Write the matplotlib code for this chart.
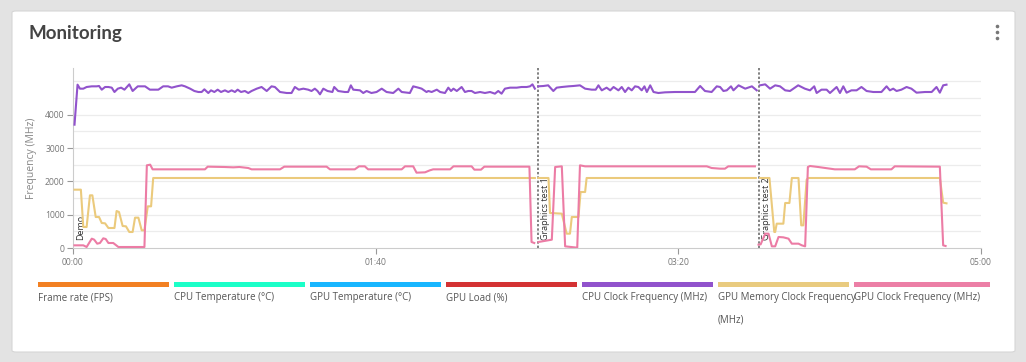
import numpy as np
import matplotlib.pyplot as plt
from matplotlib.patches import FancyBboxPatch, Rectangle
from matplotlib.lines import Line2D
from matplotlib.transforms import offset_copy

nan = np.nan

# time in seconds, NaN separates the three runs (Demo / Graphics test 1 / Graphics test 2)
cpu_clock_t = [0.5, 1.5, 2.3, 3.4, 4.5, 6.2, 7.8, 8.6, 9.5, 10.6, 11.7, 12.8, 13.7, 14.8, 15.9, 17.0,
               18.6, 19.7, 21.4, 23.8, 25.4, 28.2, 29.8, 31.4, 32.6, 34.3, 35.9, 37.0, 38.7, 40.1, 41.4,
               42.5, 43.4, 44.7, 45.6, 46.7, 47.8, 48.9, 50.2, 51.3, 52.4, 53.5, 54.4, 55.5, 56.8, 57.9,
               59.0, 60.7, 62.3, 64.0, 65.6, 66.7, 68.4, 70.6, 72.2, 73.3, 74.6, 76.1, 77.7, 78.8, 79.9,
               80.8, 81.6, 82.7, 84.1, 85.7, 86.3, 87.6, 89.8, 90.9, 91.8, 92.6, 94.8, 95.9, 97.0, 98.6,
               100.3, 102.0, 103.6, 105.8, 107.5, 108.6, 111.3, 112.4, 114.1, 115.2, 116.8, 117.4, 118.5,
               120.2, 121.3, 122.9, 124.0, 124.9, 125.7, 126.8, 128.4, 129.5, 130.6, 131.7, 132.8, 134.5,
               136.1, 137.8, 139.4, 140.5, 141.6, 142.7, 144.4, 146.6, 148.2, 149.9, 151.0, 151.8, 152.6,
               nan,
               153.7, 155.4, 157.0, 158.7, 159.8, 161.5, 163.7, 165.3, 167.5, 169.2, 171.4, 172.7, 173.6,
               174.7, 176.3, 177.5, 178.6, 180.2, 181.3, 182.4, 183.5, 184.6, 185.7, 186.8, 187.9, 188.8,
               189.6, 190.7, 191.8, 193.4, 195.6, 198.9, 202.2, 205.5, 207.2, 208.8, 211.0, 212.7, 213.8,
               214.9, 216.0, 217.4, 218.2, 219.9, 222.1, 224.3, 225.9,
               nan,
               227.0, 228.7, 230.3, 232.0, 233.6, 235.3, 236.9, 239.6, 241.8, 243.5, 244.9, 245.7, 247.3,
               249.0, 250.1, 252.3, 253.4, 254.5, 255.6, 257.2, 258.9, 260.5, 262.2, 264.4, 267.1, 268.8,
               269.9, 271.0, 272.1, 273.7, 275.4, 277.0, 278.7, 281.5, 283.7, 285.3, 286.4, 287.5, 288.6]
cpu_clock_v = [3700, 4900, 4780, 4780, 4830, 4850, 4850, 4860, 4750, 4830, 4830, 4810, 4680, 4780, 4810, 4750,
               4910, 4710, 4850, 4850, 4750, 4750, 4850, 4850, 4810, 4850, 4880, 4850, 4780, 4710, 4680,
               4680, 4760, 4650, 4730, 4680, 4750, 4680, 4730, 4680, 4730, 4680, 4750, 4680, 4710, 4650,
               4710, 4780, 4830, 4710, 4850, 4830, 4680, 4650, 4650, 4830, 4750, 4780, 4750, 4710, 4780,
               4710, 4610, 4780, 4710, 4680, 4830, 4710, 4680, 4680, 4880, 4750, 4730, 4650, 4710, 4650,
               4680, 4780, 4680, 4650, 4780, 4680, 4650, 4850, 4810, 4780, 4680, 4710, 4680,
               4750, 4680, 4650, 4810, 4710, 4780, 4710, 4830, 4680, 4710, 4710, 4650, 4680,
               4650, 4680, 4630, 4710, 4630, 4780, 4810, 4810, 4830, 4830, 4850, 4910, 4780,
               nan,
               4850, 4860, 4880, 4710, 4810, 4830, 4850, 4860, 4880, 4780, 4750, 4750, 4880,
               4730, 4810, 4730, 4830, 4730, 4830, 4680, 4810, 4730, 4850, 4830, 4730, 4850,
               4680, 4880, 4680, 4650, 4670, 4680, 4680, 4680, 4860, 4710, 4680, 4850, 4830,
               4710, 4730, 4850, 4730, 4880, 4780, 4850, 4730,
               nan,
               4880, 4910, 4780, 4880, 4850, 4730, 4710, 4880, 4780, 4730, 4850, 4650, 4750,
               4750, 4650, 4830, 4650, 4850, 4660, 4730, 4730, 4830, 4710, 4680, 4680, 4850,
               4730, 4780, 4710, 4750, 4830, 4780, 4660, 4680, 4680, 4830, 4660, 4880, 4900]

gpu_mem_t = [0.5, 2.6, 3.4, 4.5, 5.6, 6.4, 7.5, 8.6, 9.5, 10.6, 11.7, 13.7, 14.4, 15.2, 16.4, 17.5, 18.6,
             19.7, 20.5, 21.6, 22.7, 23.6, 24.7, 25.8, 26.5, 152.6,
             nan,
             153.7, 157.1, 157.6, 161.5, 163.1, 164.2, 164.8, 167.0, 167.7, 169.2, 169.7, 225.6,
             nan,
             227.0, 230.1, 231.7, 232.0, 232.5, 234.7, 235.3, 236.7, 237.5, 239.7, 240.6, 241.3, 242.4,
             242.9, 286.4, 287.5, 288.6]
gpu_mem_v = [1750, 1750, 630, 630, 1580, 1580, 930, 930, 750, 740, 600, 600, 1110, 1080, 660, 650, 480,
             480, 910, 910, 530, 530, 1250, 1250, 2100, 2100,
             nan,
             2100, 2100, 1050, 1030, 430, 430, 930, 930, 1680, 1680, 2100, 2100,
             nan,
             2100, 2100, 480, 480, 730, 730, 1350, 1350, 2100, 2100, 680, 680, 2050,
             2100, 2100, 1360, 1340]

gpu_clock_t = [0.5, 3.4, 4.5, 6.2, 7.0, 8.0, 8.9, 10.0, 10.8, 11.7, 13.3, 15.0, 23.6, 24.4, 25.5, 26.3,
               43.6, 44.5, 50.0, 53.0, 55.0, 57.9, 59.0, 68.4, 69.8, 83.8, 84.9, 93.1, 94.5, 96.4, 97.5,
               108.6, 109.7, 112.4, 113.5, 116.3, 117.9, 119.0, 124.6, 125.7, 131.7, 132.6, 134.8, 135.9,
               150.8, 151.5, 152.4,
               nan,
               153.8, 158.2, 159.3, 161.5, 162.6, 166.6, 167.5, 169.2, 209.4, 211.0, 213.8, 215.4, 216.5,
               225.3,
               nan,
               226.5, 227.2, 228.7, 229.8, 230.9, 232.0, 233.1, 234.7, 236.4, 237.5, 239.7, 240.8, 241.9,
               242.8, 243.5, 246.2, 251.7, 258.3, 259.7, 262.2, 263.6, 270.4, 271.5, 286.4, 287.5, 288.3]
gpu_clock_v = [80, 80, 30, 280, 250, 130, 150, 290, 270, 150, 150, 30, 30, 2480, 2500, 2360,
               2360, 2440, 2430, 2420, 2430, 2400, 2360, 2360, 2440, 2440, 2360, 2360, 2450, 2450, 2360,
               2360, 2450, 2450, 2260, 2270, 2330, 2360, 2360, 2450, 2450, 2350, 2350, 2440,
               2440, 180, 150,
               nan,
               180, 250, 2430, 2450, 50, 10, 2480, 2450, 2450, 2400, 2380, 2380, 2450,
               2450,
               nan,
               100, 110, 430, 430, 50, 50, 330, 320, 280, 130, 130, 80, 50,
               2430, 2460, 2430, 2360, 2360, 2450, 2440, 2360, 2360, 2450, 2440, 80, 60]

marker_times = [0, 153.6, 226.6]
marker_labels = ['Demo', 'Graphics test 1', 'Graphics test 2']

x_ticks = [0, 100, 200, 300]
x_labels = ['00:00', '01:40', '03:20', '05:00']
y_ticks = [0, 1000, 2000, 3000, 4000]

legend_names = ['Frame rate (FPS)', 'CPU Temperature (°C)', 'GPU Temperature (°C)', 'GPU Load (%)',
                'CPU Clock Frequency (MHz)', 'GPU Memory Clock Frequency\n(MHz)', 'GPU Clock Frequency (MHz)']
legend_colors = ['#f28022', '#1bffc8', '#18b6ff', '#d43233', '#9153cc', '#e9cb7f', '#ec7fa6']

W, H = 1026, 362
plt.rcParams['font.family'] = ['Open Sans', 'DejaVu Sans']

fig = plt.figure(figsize=(W / 100, H / 100), dpi=100)
fig.patch.set_facecolor('#e3e3e3')

# white card, kept behind the axes
card = FancyBboxPatch((12 / W, 1 - 352 / H), 1003 / W, 341 / H,
                      boxstyle='round,pad=0,rounding_size=0.004', transform=fig.transFigure,
                      facecolor='white', edgecolor='#d6d6d6', linewidth=0.8, zorder=-5)
fig.patches.append(card)

fig.text(28 / W, 1 - 33 / H, 'Monitoring', family=['Lato', 'DejaVu Sans'], fontsize=13.5,
         fontweight='bold', color='#444444', va='center', ha='left')
for yy in [26, 32, 38]:
    fig.add_artist(Line2D([997 / W], [1 - yy / H], marker='o', markersize=2.6, color='#777777',
                          markeredgewidth=0, transform=fig.transFigure))

ax = fig.add_axes([73 / W, 1 - 248 / H, 908 / W, 180 / H], zorder=2)
ax.set_facecolor('none')
ax.set_xlim(0, 300)
ax.set_ylim(0, 5400)

for g in range(500, 5001, 500):
    ax.axhline(g, color='#ececec', linewidth=0.9, zorder=0)

ax.plot(cpu_clock_t, cpu_clock_v, color='#9153cc', linewidth=1.5, zorder=3)
ax.plot(gpu_mem_t, gpu_mem_v, color='#ebca7c', linewidth=1.5, zorder=3)
ax.plot(gpu_clock_t, gpu_clock_v, color='#ec7ca5', linewidth=1.5, zorder=3)

txt_tr = offset_copy(ax.transData, fig=fig, x=3, y=0, units='dots')
for mt, ml in zip(marker_times, marker_labels):
    ax.axvline(mt, color='#777777', linewidth=1.3, linestyle=(0, (1.3, 1.1)), zorder=2.5)
    ax.text(mt, 230, ml, rotation=90, ha='left', va='bottom', fontsize=6.5, color='#333333',
            transform=txt_tr, zorder=2)

for s in ['top', 'right']:
    ax.spines[s].set_visible(False)
ax.spines['bottom'].set_color('#cccccc')
ax.spines['left'].set_color('#cccccc')

ax.set_xticks(x_ticks)
ax.set_xticklabels(x_labels)
ax.set_yticks(y_ticks)
ax.tick_params(axis='both', colors='#999999', labelcolor='#777777', labelsize=6.2, length=4, width=0.8)
ax.tick_params(axis='x', pad=3)
ax.tick_params(axis='y', pad=2)
ax.set_ylabel('Frequency (MHz)', fontsize=7.5, color='#888888', labelpad=6)

# legend strip
for i, (name, col) in enumerate(zip(legend_names, legend_colors)):
    x0 = 38 + i * 136
    w = 136 if i == len(legend_names) - 1 else 131
    fig.patches.append(Rectangle((x0 / W, 1 - 287 / H), w / W, 5 / H, transform=fig.transFigure,
                                 facecolor=col, edgecolor='none'))
    fig.text(x0 / W, 1 - 292 / H, name, fontsize=7, color='#555555', ha='left', va='top',
             linespacing=2.4)

fig.savefig('out.png', dpi=100, facecolor=fig.get_facecolor())
